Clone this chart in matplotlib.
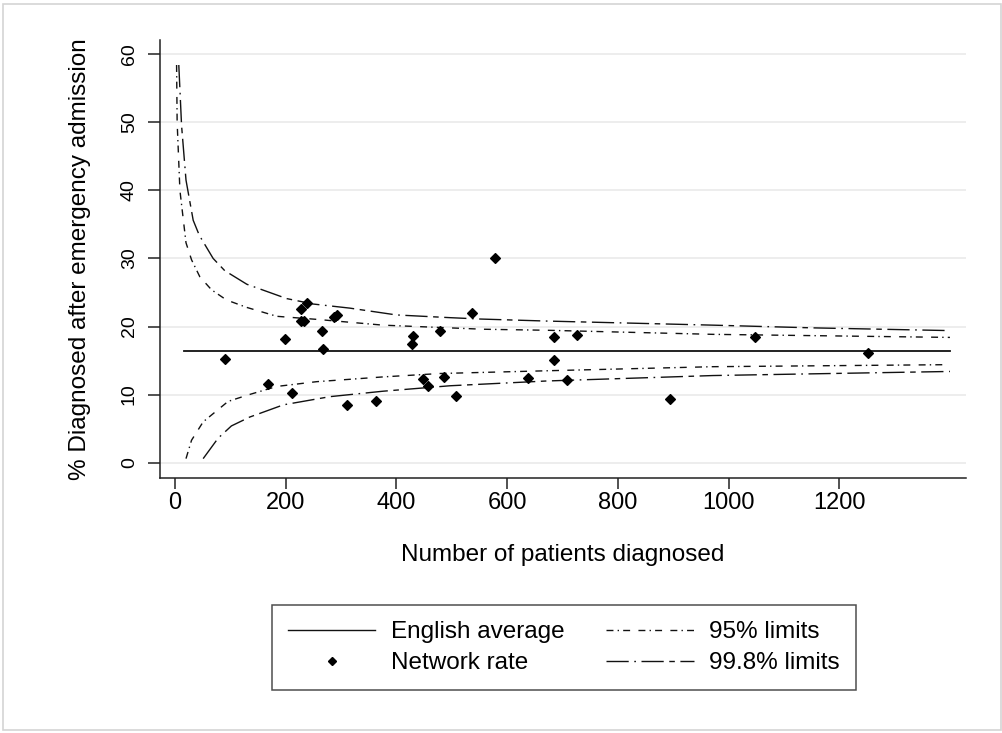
import matplotlib
matplotlib.use("Agg")
import matplotlib.pyplot as plt
from matplotlib.lines import Line2D
from matplotlib.patches import Rectangle

plt.rcParams['font.family'] = ['Liberation Sans', 'DejaVu Sans']

# ------------------------------------------------------------
# Data
# ------------------------------------------------------------
english_avg = 16.4
avg_n = [16, 1400]

network_n = [90, 169, 199, 212, 227, 228, 234, 238, 265, 268, 288, 292,
             311, 363, 428, 430, 449, 458, 478, 486, 507, 536, 579, 637,
             684, 685, 708, 727, 895, 1047, 1252]
network_v = [15.2, 11.6, 18.2, 10.3, 22.6, 20.8, 20.8, 23.5, 19.3, 16.7, 21.4, 21.7,
             8.5, 9.0, 17.4, 18.6, 12.3, 11.3, 19.4, 12.6, 9.8, 22.0, 30.0, 12.5,
             18.4, 15.1, 12.1, 18.7, 9.3, 18.4, 16.1]

# upper / lower 95% limits
u95_n = [3, 4, 9, 20, 30, 45, 66, 93, 130, 184, 256, 376, 557, 671, 972, 1400]
u95_v = [58.4, 50.0, 40.0, 32.3, 29.8, 27.3, 25.4, 23.9, 22.8, 21.5, 21.05, 20.2,
         19.6, 19.45, 18.85, 18.4]
l95_n = [20, 30, 51, 96, 130, 184, 256, 376, 479, 671, 972, 1400]
l95_v = [0.6, 3.3, 6.0, 9.0, 9.9, 11.2, 11.9, 12.6, 13.1, 13.5, 14.1, 14.4]

# upper / lower 99.8% limits
u998_n = [7, 12, 20, 33, 44, 69, 90, 130, 202, 250, 316, 400, 497, 551, 672, 972,
          1153, 1400]
u998_v = [58.4, 49.5, 41.5, 35.6, 33.4, 30.0, 28.2, 26.2, 24.1, 23.3, 22.7, 21.7,
          21.3, 21.1, 20.8, 20.2, 19.8, 19.4]
l998_n = [51, 78, 102, 135, 196, 280, 376, 497, 671, 972, 1400]
l998_v = [0.6, 3.6, 5.4, 6.7, 8.5, 9.7, 10.5, 11.3, 12.0, 12.8, 13.4]

x_ticks = [0, 200, 400, 600, 800, 1000, 1200]
y_ticks = [0, 10, 20, 30, 40, 50, 60]

# ------------------------------------------------------------
# Figure
# ------------------------------------------------------------
fig = plt.figure(figsize=(10.03, 7.33), dpi=100)
fig.patches.append(Rectangle((3 / 1003, 3 / 733), 998 / 1003, 726 / 733,
                             transform=fig.transFigure, fill=False,
                             edgecolor='#d4d4d4', linewidth=1.2))

ax = fig.add_axes([0.1595, 0.3483, 0.8036, 0.5971])

ax.set_xlim(-27, 1429)
ax.set_ylim(-2.2, 62.07)

for v in y_ticks:
    ax.axhline(v, color='#ececec', linewidth=1.3, zorder=0)

dash95 = (0, (5, 3, 1, 3, 5, 6))
dash998 = (0, (16, 4, 1.2, 4, 16, 4, 4, 4))

ax.plot(avg_n, [english_avg, english_avg], color='#111111', linewidth=1.3)
ax.plot(u95_n, u95_v, color='#111111', linewidth=1.0, linestyle=dash95)
ax.plot(l95_n, l95_v, color='#111111', linewidth=1.0, linestyle=dash95)
ax.plot(u998_n, u998_v, color='#111111', linewidth=1.0, linestyle=dash998)
ax.plot(l998_n, l998_v, color='#111111', linewidth=1.0, linestyle=dash998)
ax.plot(network_n, network_v, linestyle='none', marker='D', markersize=5.6,
        color='black', markeredgewidth=0.9)

for side in ['top', 'right']:
    ax.spines[side].set_visible(False)
for side in ['left', 'bottom']:
    ax.spines[side].set_linewidth(1.1)
    ax.spines[side].set_color('#222222')

ax.set_xticks(x_ticks)
ax.set_yticks(y_ticks)
ax.tick_params(axis='x', length=8, width=1.1, pad=2, labelsize=17, color='#222222')
ax.tick_params(axis='y', length=9, width=1.1, pad=7, labelsize=14,
               labelrotation=90, color='#222222')
for lab in ax.get_yticklabels():
    lab.set_verticalalignment('center')

ax.set_xlabel('Number of patients diagnosed', fontsize=17.5, labelpad=22)
ax.set_ylabel('% Diagnosed after emergency admission', fontsize=17.5)
ax.yaxis.set_label_coords(-0.085, 0.5)

handles = [
    Line2D([], [], color='#111111', linewidth=1.0),
    Line2D([], [], linestyle='none', marker='D', markersize=4, color='black'),
    Line2D([], [], color='#111111', linewidth=1.0, linestyle=dash95),
    Line2D([], [], color='#111111', linewidth=1.0, linestyle=dash998),
]
labels = ['English average', 'Network rate', '95% limits', '99.8% limits']
leg = fig.legend(handles, labels, ncol=2, loc='center',
                 bbox_to_anchor=(0.5623, 0.1166), fontsize=17.5,
                 frameon=True, fancybox=False, edgecolor='#222222',
                 handlelength=3.6, handletextpad=0.65, columnspacing=1.7,
                 borderpad=0.65, labelspacing=0.37)
leg.get_frame().set_linewidth(1.1)

fig.savefig('out.png', dpi=100)
